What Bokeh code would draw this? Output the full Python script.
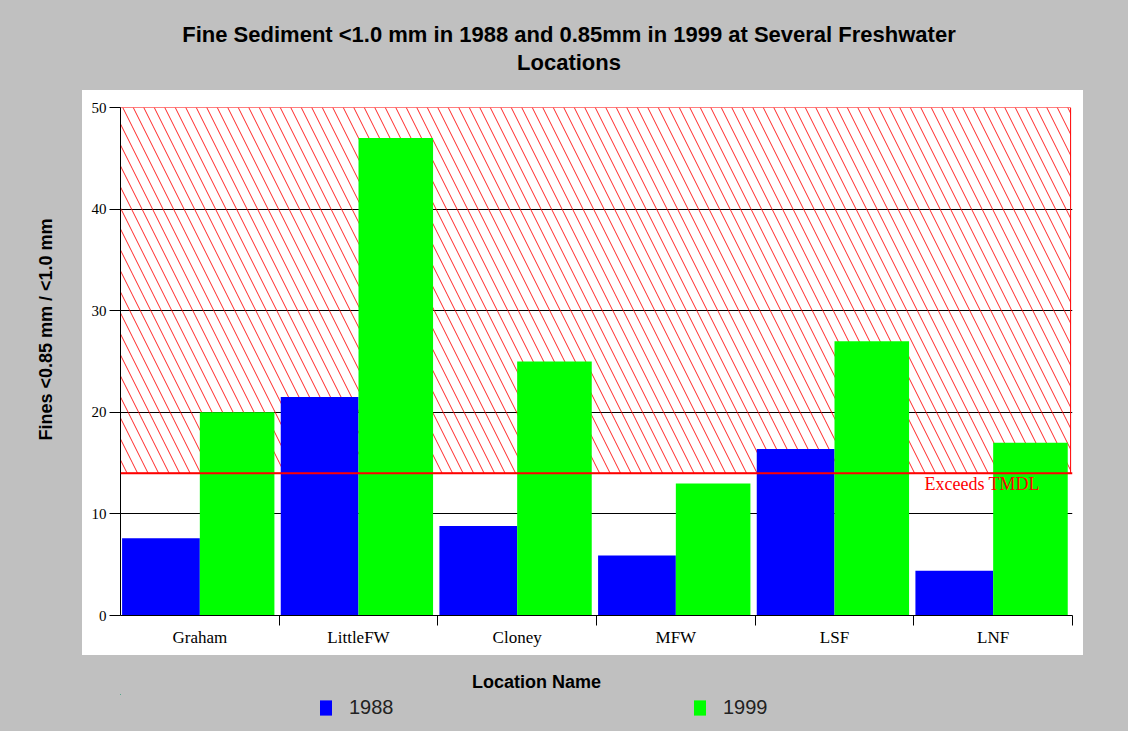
from bokeh.plotting import figure
from bokeh.layouts import column
from bokeh.models import (Range1d, FixedTicker, Span, Label, LinearAxis,
                          Legend, LegendItem, ColumnDataSource)
from bokeh.embed import file_html
from bokeh.resources import INLINE

# ---- data ----
categories = ["Graham", "LittleFW", "Cloney", "MFW", "LSF", "LNF"]
values_1988 = [7.6, 21.5, 8.8, 5.9, 16.4, 4.4]
values_1999 = [20.0, 47.0, 25.0, 13.0, 27.0, 17.0]
series_names = ["1988", "1999"]
tmdl = 14
y_ticks = [0, 10, 20, 30, 40, 50]
title_lines = ["Fine Sediment <1.0 mm in 1988 and 0.85mm in 1999 at Several Freshwater",
               "Locations"]
y_label = "Fines <0.85 mm / <1.0 mm"
x_label = "Location Name"
tmdl_label = "Exceeds TMDL"

GRAY = "#c0c0c0"
BLUE = "#0000ff"
GREEN = "#00ff00"

W = 1128
FL, FR, FT, FB = 120, 1072, 107, 615          # frame edges (px)
H1 = 693                                       # main figure height
H2 = 37                                        # legend strip height
n = len(categories)
idx = list(range(n))
x_per_px = n / (FR - FL)
y_per_px = 50 / (FB - FT)

src = ColumnDataSource(dict(
    cat=categories,
    x88=[i + 0.255 for i in idx],
    x99=[i + 0.735 for i in idx],
    v88=values_1988,
    v99=values_1999,
))

bg = ("linear-gradient(#ffffff,#ffffff) 82px 90px / 1001px 565px no-repeat, " + GRAY)
p = figure(frame_width=FR - FL, frame_height=FB - FT,
           output_backend="svg", toolbar_location=None,
           x_range=Range1d(0, n), y_range=Range1d(0, 50),
           min_border_left=FL, min_border_right=W - FR,
           min_border_top=FT, min_border_bottom=H1 - FB,
           styles={"background": bg})
p.title = None
p.border_fill_color = GRAY
p.border_fill_alpha = 0
p.background_fill_color = "white"
p.outline_line_color = None

# hatched exceedance zone
p.quad(left=[0], right=[n - 0.012], bottom=[tmdl], top=[50],
       fill_alpha=0, line_color="red", line_width=1,
       hatch_pattern="\\", hatch_color="red", hatch_scale=21,
       hatch_weight=1, hatch_alpha=0.85)

r88 = p.vbar(x="x88", top="v88", width=0.49, bottom=0, source=src,
             fill_color=BLUE, line_color=None)
r99 = p.vbar(x="x99", top="v99", width=0.47, bottom=0, source=src,
             fill_color=GREEN, line_color=None)

p.add_layout(Span(location=tmdl, dimension="width", line_color="red", line_width=2))
p.add_layout(Label(x=n - 0.933, y=tmdl, y_offset=-11, text=tmdl_label,
                   text_color="red", text_font="Liberation Serif",
                   text_font_size="18px", text_baseline="middle"))

# main axes
xa = p.xaxis[0]
xa.ticker = FixedTicker(ticks=[i + 0.5 for i in idx], minor_ticks=[i + 1 for i in idx])
xa.major_label_overrides = {i + 0.5: c for i, c in enumerate(categories)}
xa.major_tick_out = 0
xa.major_tick_in = 0
xa.minor_tick_out = 10
xa.minor_tick_in = 0
xa.minor_tick_line_color = "black"
xa.axis_line_color = "black"
xa.major_label_text_font = "Liberation Serif"
xa.major_label_text_font_size = "17px"
xa.major_label_text_color = "black"
xa.major_label_standoff = 2

ya = p.yaxis[0]
ya.ticker = FixedTicker(ticks=y_ticks, minor_ticks=[])
ya.major_tick_out = 11
ya.major_tick_in = 0
ya.major_tick_line_color = "black"
ya.axis_line_color = "black"
ya.major_label_text_font = "Liberation Serif"
ya.major_label_text_font_size = "15px"
ya.major_label_text_color = "black"
ya.major_label_standoff = 3

p.xgrid.grid_line_color = None
p.ygrid.grid_line_color = "black"
p.ygrid.grid_line_width = 1
p.ygrid.ticker = FixedTicker(ticks=y_ticks)


def text_axis(text, pos, standoff, size, orientation="horizontal"):
    ax = LinearAxis(ticker=FixedTicker(ticks=[pos], minor_ticks=[]),
                    major_label_overrides={pos: text},
                    axis_line_color=None, major_tick_line_color=None,
                    minor_tick_line_color=None, major_tick_out=0, major_tick_in=0,
                    minor_tick_out=0, minor_tick_in=0,
                    major_label_standoff=standoff,
                    major_label_orientation=orientation,
                    major_label_text_font="Liberation Sans",
                    major_label_text_font_style="bold",
                    major_label_text_font_size=size,
                    major_label_text_color="black")
    return ax


# title lines (centered at px 568.5), nearest line first
title_cx = (568.5 - FL) * x_per_px
p.add_layout(text_axis(title_lines[1], title_cx, 33, "22px"), "above")
p.add_layout(text_axis(title_lines[0], title_cx, 0, "22px"), "above")

# y axis title (centered at px 329)
p.add_layout(text_axis(y_label, (FB - 329) * y_per_px, 33, "18px", "vertical"), "left")

# x axis title (centered at px 536)
p.add_layout(text_axis(x_label, (536 - FL) * x_per_px, 22, "18px"), "below")

# ---- legend strip (gray, below the main figure) ----
p2 = figure(width=W, height=H2, output_backend="svg", toolbar_location=None,
            x_range=Range1d(100, 101), y_range=Range1d(-1000, -999),
            x_axis_location=None, y_axis_location=None,
            min_border=0, min_border_left=0, min_border_right=0,
            min_border_top=0, min_border_bottom=0,
            styles={"background": GRAY})
p2.title = None
p2.outline_line_color = None
p2.border_fill_alpha = 0
p2.background_fill_alpha = 0
p2.grid.grid_line_color = None
# same series, kept outside the strip's visible ranges: only legend swatches show
lg88 = p2.vbar(x="x88", top="v88", width=0.49, bottom=0, source=src,
               fill_color=BLUE, line_color=None)
lg99 = p2.vbar(x="x99", top="v99", width=0.47, bottom=0, source=src,
               fill_color=GREEN, line_color=None)

legend = Legend(items=[LegendItem(label=series_names[0], renderers=[lg88]),
                       LegendItem(label=series_names[1], renderers=[lg99])],
                orientation="horizontal", location=(197, H2 - 26),
                glyph_width=15, glyph_height=19, label_standoff=16,
                label_width=343, label_height=24, spacing=0, padding=1, margin=0,
                label_text_font="Liberation Sans", label_text_font_size="20px",
                label_text_color="#222222", background_fill_alpha=0,
                border_line_alpha=0)
p2.add_layout(legend)

layout = column(p, p2, spacing=0, styles={"background": GRAY})
open("out.html", "w").write(file_html(layout, INLINE))
